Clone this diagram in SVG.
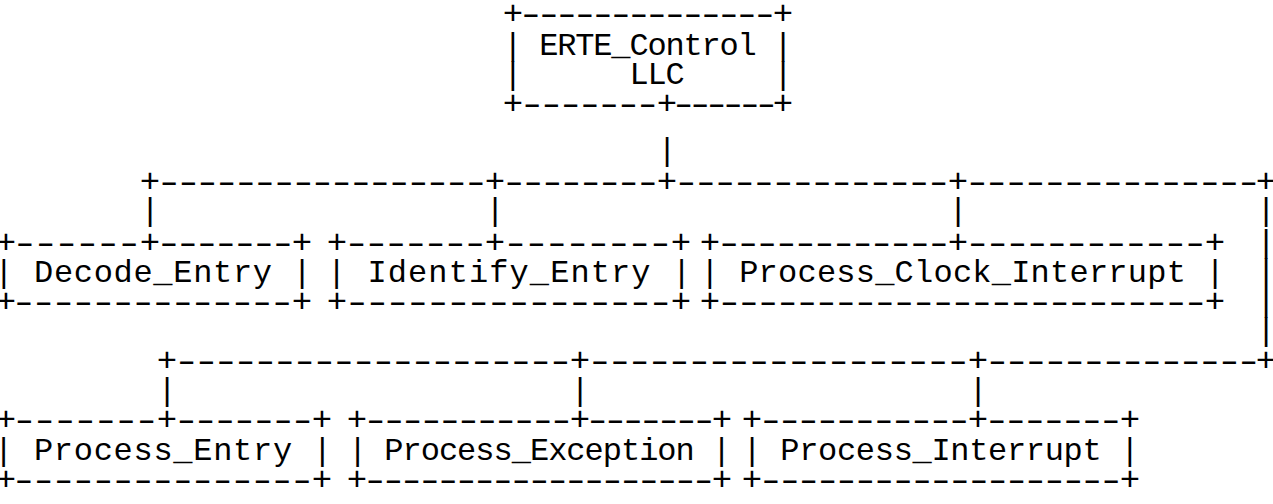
<svg xmlns="http://www.w3.org/2000/svg" width="1273" height="504" viewBox="0 0 1273 504">
  <style>
    text { font-family: "Liberation Mono", "DejaVu Sans Mono", monospace; font-size: 32px; fill: #000; white-space: pre; }
    .bar, .j { text-anchor: middle; }
    .j { font-size: 34px; }
  </style>
  <rect width="1273" height="504" fill="#fff"/>

  <!-- dash runs are drawn in a 1.5x horizontally stretched frame so each '-' reads as a long dash -->

  <!-- root box -->
  <g id="erte-control">
    <g transform="scale(1.5,1)">
      <text x="344.4" y="24" textLength="175.2">--------------</text>
      <text x="345.23" y="114" textLength="96.2">-------</text>
      <text x="446.11" y="114" textLength="74.44">------</text>
    </g>
    <text class="j" x="513" y="24">+</text>
    <text class="j" x="783" y="24">+</text>
    <text x="503.2" y="55" textLength="289.6">| ERTE_Control |</text>
    <text x="503.2" y="84" textLength="289.6">|      LLC     |</text>
    <text class="j" x="513" y="114">+</text>
    <text class="j" x="667" y="114">+</text>
    <text class="j" x="783" y="114">+</text>
  </g>

  <!-- tree connectors -->
  <g id="connectors">
    <text class="bar" x="667" y="160">|</text>
    <g transform="scale(1.5,1)">
      <text x="103.18" y="192" textLength="223.64">-----------------</text>
      <text x="333.14" y="192" textLength="108.39">--------</text>
      <text x="448.0" y="192" textLength="187.33">--------------</text>
      <text x="641.98" y="192" textLength="200.03">---------------</text>
      <text x="114.84" y="371" textLength="268.31">--------------------</text>
      <text x="390.33" y="371" textLength="258.0">-------------------</text>
      <text x="655.29" y="371" textLength="186.76">--------------</text>
    </g>
    <text class="j" x="150" y="192">+</text>
    <text class="j" x="495" y="192">+</text>
    <text class="j" x="667" y="192">+</text>
    <text class="j" x="958" y="192">+</text>
    <text class="j" x="1266" y="192">+</text>
    <text class="bar" x="150" y="220">|</text>
    <text class="bar" x="495" y="220">|</text>
    <text class="bar" x="958" y="220">|</text>
    <text class="bar" x="1266" y="220">|</text>
    <text class="bar" x="1266" y="252">|</text>
    <text class="bar" x="1266" y="281">|</text>
    <text class="bar" x="1266" y="311">|</text>
    <text class="bar" x="1266" y="340">|</text>
    <text class="j" x="167" y="371">+</text>
    <text class="j" x="580" y="371">+</text>
    <text class="j" x="978" y="371">+</text>
    <text class="j" x="1266" y="371">+</text>
    <text class="bar" x="167" y="400">|</text>
    <text class="bar" x="580" y="400">|</text>
    <text class="bar" x="978" y="400">|</text>
  </g>

  <!-- first row of children -->
  <g id="decode-entry">
    <g transform="scale(1.5,1)">
      <text x="6.97" y="253" textLength="88.72">------</text>
      <text x="103.07" y="253" textLength="95.2">-------</text>
      <text x="6.31" y="312" textLength="191.38">--------------</text>
    </g>
    <text class="j" x="6" y="253">+</text>
    <text class="j" x="150" y="253">+</text>
    <text class="j" x="302" y="253">+</text>
    <text x="-5.8" y="282" textLength="317.6">| Decode_Entry |</text>
    <text class="j" x="6" y="312">+</text>
    <text class="j" x="302" y="312">+</text>
  </g>
  <g id="identify-entry">
    <g transform="scale(1.5,1)">
      <text x="228.23" y="253" textLength="98.2">-------</text>
      <text x="334.18" y="253" textLength="115.64">--------</text>
      <text x="228.56" y="312" textLength="221.55">----------------</text>
    </g>
    <text class="j" x="337" y="253">+</text>
    <text class="j" x="495" y="253">+</text>
    <text class="j" x="681" y="253">+</text>
    <text x="326.9" y="282" textLength="364.2">| Identify_Entry |</text>
    <text class="j" x="337" y="312">+</text>
    <text class="j" x="681" y="312">+</text>
  </g>
  <g id="process-clock-interrupt">
    <g transform="scale(1.5,1)">
      <text x="476.45" y="253" textLength="159.1">------------</text>
      <text x="642.25" y="253" textLength="164.17">------------</text>
      <text x="476.68" y="312" textLength="329.97">-------------------------</text>
    </g>
    <text class="j" x="710" y="253">+</text>
    <text class="j" x="958" y="253">+</text>
    <text class="j" x="1215" y="253">+</text>
    <text x="700.3" y="282" textLength="524.4">| Process_Clock_Interrupt |</text>
    <text class="j" x="710" y="312">+</text>
    <text class="j" x="1215" y="312">+</text>
  </g>

  <!-- second row of children -->
  <g id="process-entry">
    <g transform="scale(1.5,1)">
      <text x="6.65" y="430" textLength="100.7">-------</text>
      <text x="114.65" y="430" textLength="96.7">-------</text>
      <text x="6.32" y="490" textLength="204.7">---------------</text>
    </g>
    <text class="j" x="6" y="430">+</text>
    <text class="j" x="167" y="430">+</text>
    <text class="j" x="322" y="430">+</text>
    <text x="-5.9" y="460" textLength="337.9">| Process_Entry |</text>
    <text class="j" x="6" y="490">+</text>
    <text class="j" x="322" y="490">+</text>
  </g>
  <g id="process-exception">
    <g transform="scale(1.5,1)">
      <text x="240.79" y="430" textLength="143.09">-----------</text>
      <text x="388.9" y="430" textLength="90.2">-------</text>
      <text x="240.57" y="490" textLength="238.2">-------------------</text>
    </g>
    <text class="j" x="357" y="430">+</text>
    <text class="j" x="580" y="430">+</text>
    <text class="j" x="722" y="430">+</text>
    <text x="347.9" y="460" textLength="383.25">| Process_Exception |</text>
    <text class="j" x="357" y="490">+</text>
    <text class="j" x="722" y="490">+</text>
  </g>
  <g id="process-interrupt">
    <g transform="scale(1.5,1)">
      <text x="504.29" y="430" textLength="144.76">-----------</text>
      <text x="655.07" y="430" textLength="95.2">-------</text>
      <text x="504.33" y="490" textLength="246.0">-------------------</text>
    </g>
    <text class="j" x="752" y="430">+</text>
    <text class="j" x="978" y="430">+</text>
    <text class="j" x="1130" y="430">+</text>
    <text x="742.55" y="460" textLength="396.9">| Process_Interrupt |</text>
    <text class="j" x="752" y="490">+</text>
    <text class="j" x="1130" y="490">+</text>
  </g>
</svg>
